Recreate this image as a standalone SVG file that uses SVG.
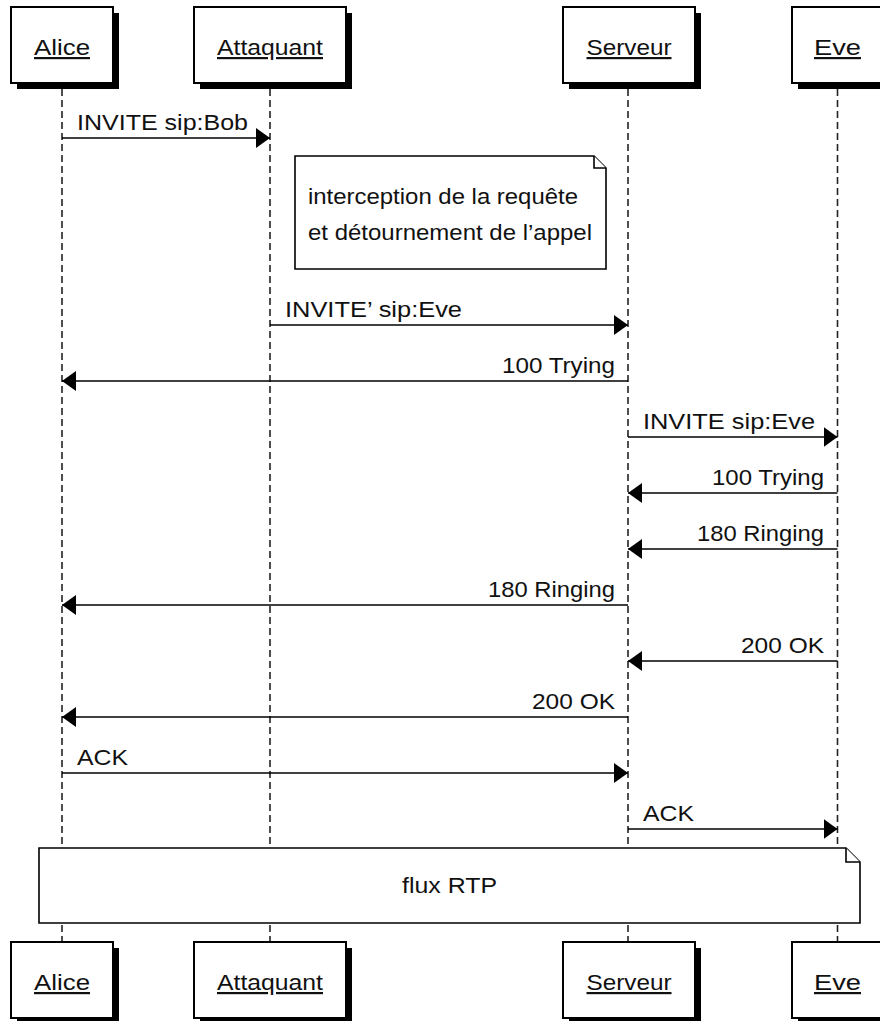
<svg xmlns="http://www.w3.org/2000/svg" width="880" height="1021" viewBox="0 0 880 1021">
<style>
text{font-family:"Liberation Sans",Arial,sans-serif;font-size:22px;fill:#111}
.actor rect.box{fill:#fff;stroke:#000;stroke-width:2}
.actor rect.sh{fill:#000}
.actor text{text-anchor:middle;text-decoration:underline}
.life{stroke:#222;stroke-width:1.6;stroke-dasharray:7 4;fill:none}
.msg{stroke:#000;stroke-width:1.6;fill:none}
.note{fill:#fff;stroke:#000;stroke-width:1.6}
.r{text-anchor:end}
</style>
<defs>
<marker id="ah" viewBox="0 0 14 20" refX="14" refY="10" markerWidth="14" markerHeight="20" markerUnits="userSpaceOnUse" orient="auto">
<path d="M0,0 L14,10 L0,20 Z" fill="#000"/>
</marker>
</defs>

<g id="lifelines">
<line class="life" x1="62" y1="89" x2="62" y2="942"/>
<line class="life" x1="270" y1="89" x2="270" y2="942"/>
<line class="life" x1="628" y1="89" x2="628" y2="942"/>
<line class="life" x1="837.5" y1="89" x2="837.5" y2="942"/>
</g>

<g id="actor-alice-top" class="actor">
<rect class="sh" x="17" y="13" width="102" height="76"/>
<rect class="box" x="11" y="7" width="102" height="76"/>
<text x="62" y="55" textLength="56" lengthAdjust="spacingAndGlyphs">Alice</text>
</g>
<g id="actor-attaquant-top" class="actor">
<rect class="sh" x="200" y="13" width="152" height="76"/>
<rect class="box" x="194" y="7" width="152" height="76"/>
<text x="270" y="55" textLength="106" lengthAdjust="spacingAndGlyphs">Attaquant</text>
</g>
<g id="actor-serveur-top" class="actor">
<rect class="sh" x="569" y="13" width="132" height="76"/>
<rect class="box" x="563" y="7" width="132" height="76"/>
<text x="629" y="55" textLength="85" lengthAdjust="spacingAndGlyphs">Serveur</text>
</g>
<g id="actor-eve-top" class="actor">
<rect class="sh" x="798" y="13" width="93" height="76"/>
<rect class="box" x="792" y="7" width="93" height="76"/>
<text x="837.5" y="55" textLength="47" lengthAdjust="spacingAndGlyphs">Eve</text>
</g>

<g id="note-interception">
<path class="note" d="M295,156 L594,156 L606,168 L606,269 L295,269 Z"/>
<path class="note" d="M594,156 L594,168 L606,168" fill="none"/>
<text x="308" y="204" textLength="270" lengthAdjust="spacingAndGlyphs">interception de la requête</text>
<text x="308" y="240" textLength="284" lengthAdjust="spacingAndGlyphs">et détournement de l’appel</text>
</g>

<g id="connectors">
<line class="msg" x1="62" y1="138" x2="270" y2="138" marker-end="url(#ah)"/>
<line class="msg" x1="270" y1="325" x2="628" y2="325" marker-end="url(#ah)"/>
<line class="msg" x1="628" y1="381" x2="62" y2="381" marker-end="url(#ah)"/>
<line class="msg" x1="628" y1="437" x2="837.5" y2="437" marker-end="url(#ah)"/>
<line class="msg" x1="837.5" y1="493" x2="628" y2="493" marker-end="url(#ah)"/>
<line class="msg" x1="837.5" y1="549" x2="628" y2="549" marker-end="url(#ah)"/>
<line class="msg" x1="628" y1="605" x2="62" y2="605" marker-end="url(#ah)"/>
<line class="msg" x1="837.5" y1="661" x2="628" y2="661" marker-end="url(#ah)"/>
<line class="msg" x1="628" y1="717" x2="62" y2="717" marker-end="url(#ah)"/>
<line class="msg" x1="62" y1="773" x2="628" y2="773" marker-end="url(#ah)"/>
<line class="msg" x1="628" y1="829" x2="837.5" y2="829" marker-end="url(#ah)"/>
</g>

<g id="labels">
<text x="77" y="130" textLength="171" lengthAdjust="spacingAndGlyphs">INVITE sip:Bob</text>
<text x="285" y="317" textLength="177" lengthAdjust="spacingAndGlyphs">INVITE’ sip:Eve</text>
<text class="r" x="615" y="373" textLength="113" lengthAdjust="spacingAndGlyphs">100 Trying</text>
<text x="643" y="429" textLength="172" lengthAdjust="spacingAndGlyphs">INVITE sip:Eve</text>
<text class="r" x="824" y="485" textLength="112" lengthAdjust="spacingAndGlyphs">100 Trying</text>
<text class="r" x="824" y="541" textLength="127" lengthAdjust="spacingAndGlyphs">180 Ringing</text>
<text class="r" x="615" y="597" textLength="127" lengthAdjust="spacingAndGlyphs">180 Ringing</text>
<text class="r" x="824" y="653" textLength="83" lengthAdjust="spacingAndGlyphs">200 OK</text>
<text class="r" x="615" y="709" textLength="83" lengthAdjust="spacingAndGlyphs">200 OK</text>
<text x="77" y="765" textLength="51" lengthAdjust="spacingAndGlyphs">ACK</text>
<text x="643" y="821" textLength="51" lengthAdjust="spacingAndGlyphs">ACK</text>
</g>

<g id="note-rtp">
<path class="note" d="M39,848 L846,848 L860,862 L860,923 L39,923 Z"/>
<path class="note" d="M846,848 L846,862 L860,862" fill="none"/>
<text x="449.5" y="893" text-anchor="middle" textLength="95" lengthAdjust="spacingAndGlyphs">flux RTP</text>
</g>

<g id="actor-alice-bottom" class="actor">
<rect class="sh" x="17" y="948" width="102" height="76"/>
<rect class="box" x="11" y="942" width="102" height="76"/>
<text x="62" y="990" textLength="56" lengthAdjust="spacingAndGlyphs">Alice</text>
</g>
<g id="actor-attaquant-bottom" class="actor">
<rect class="sh" x="200" y="948" width="152" height="76"/>
<rect class="box" x="194" y="942" width="152" height="76"/>
<text x="270" y="990" textLength="106" lengthAdjust="spacingAndGlyphs">Attaquant</text>
</g>
<g id="actor-serveur-bottom" class="actor">
<rect class="sh" x="569" y="948" width="132" height="76"/>
<rect class="box" x="563" y="942" width="132" height="76"/>
<text x="629" y="990" textLength="85" lengthAdjust="spacingAndGlyphs">Serveur</text>
</g>
<g id="actor-eve-bottom" class="actor">
<rect class="sh" x="798" y="948" width="93" height="76"/>
<rect class="box" x="792" y="942" width="93" height="76"/>
<text x="837.5" y="990" textLength="47" lengthAdjust="spacingAndGlyphs">Eve</text>
</g>
</svg>
